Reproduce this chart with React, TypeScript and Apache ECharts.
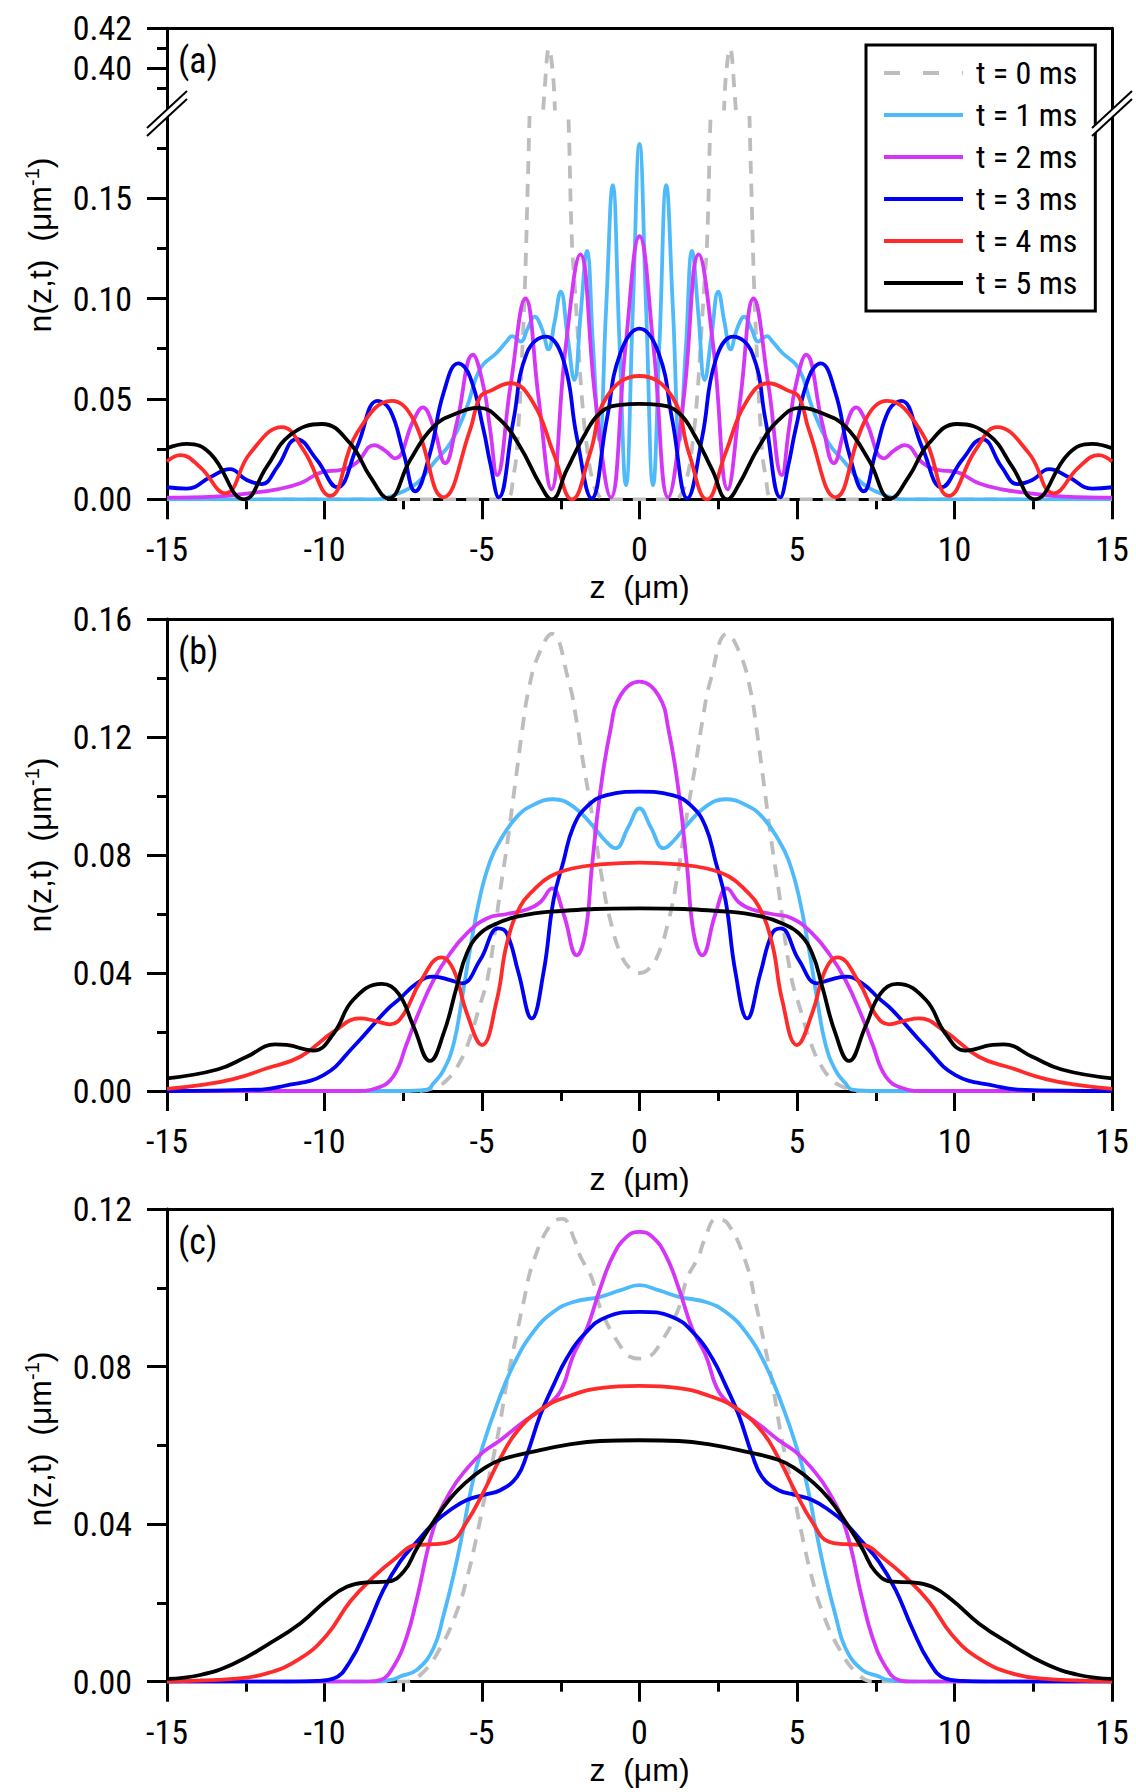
import React, { useEffect, useRef } from 'react';
import * as echarts from 'echarts';

const NARROW = "'Liberation Sans Narrow', 'Arial Narrow', 'Roboto Condensed', 'Liberation Sans', Arial, sans-serif";
const REGULAR = "'Liberation Sans', Arial, sans-serif";

const SERIES_NAMES = ['t = 0 ms', 't = 1 ms', 't = 2 ms', 't = 3 ms', 't = 4 ms', 't = 5 ms'];
const SERIES_COLORS = ['#bdbdbd', '#4fbafa', '#d535f7', '#0000f5', '#ff2a2a', '#000000'];
const PANEL_LABELS = ['(a)', '(b)', '(c)'];
const X_TITLE = 'z  (μm)';
const Y_TITLE_RICH = '{t|n(z,t)  (μm}{s|-1}{t|)}';

const Z_MIN = -15;
const Z_MAX = 15;
const Z_STEP = 5;

const A_UPPER_MIN = 0.38;
const A_UPPER_MAX = 0.42;
const A_UPPER_STEP = 0.02;
const A_UPPER_LABELS = [0.4, 0.42];
const A_LOWER_MIN = 0;
const A_LOWER_MAX = 0.19;
const A_LOWER_STEP = 0.05;
const A_LOWER_LABELS = [0, 0.05, 0.1, 0.15];
const A_LOWER_MINOR = [0.025, 0.075, 0.125, 0.175];
const B_MAX = 0.16;
const C_MAX = 0.12;
const BC_STEP = 0.04;

// half profiles (z from -15 to 0); the profiles are symmetric in z
const A_T0 = [[-15,0],[-4.3,0],[-4.0,0.012],[-3.85,0.035],[-3.74,0.068],[-3.63,0.11],[-3.56,0.15],[-3.5,0.185],[-3.4,0.25],[-3.2,0.34],[-3.0,0.392],[-2.87,0.41],[-2.78,0.402],[-2.7,0.385],[-2.55,0.32],[-2.4,0.25],[-2.25,0.188],[-2.15,0.13],[-2.05,0.105],[-1.95,0.08],[-1.85,0.055],[-1.7,0.03],[-1.5,0.01],[-1.3,0.002],[-1.1,0],[0,0]];
const A_T1 = [[-15,0],[-8.3,0],[-7.8,0.002],[-7.07,0.008],[-6.54,0.018],[-6.0,0.028],[-5.5,0.045],[-5.06,0.065],[-4.53,0.073],[-4.2,0.079],[-4.05,0.0813],[-3.9,0.08],[-3.77,0.0785],[-3.55,0.085],[-3.33,0.091],[-3.1,0.085],[-2.89,0.0747],[-2.7,0.088],[-2.5,0.1034],[-2.29,0.082],[-2.07,0.0594],[-1.87,0.092],[-1.67,0.1237],[-1.47,0.075],[-1.27,0.0295],[-1.06,0.095],[-0.85,0.1565],[-0.64,0.08],[-0.43,0.007],[-0.21,0.095],[0,0.177]];
const A_T2 = [[-15,0.0008],[-13.5,0.0013],[-12.4,0.003],[-11.5,0.005],[-10.77,0.008],[-10.03,0.0138],[-9.5,0.0146],[-9.0,0.018],[-8.42,0.027],[-8.1,0.0245],[-7.76,0.0204],[-7.17,0.0395],[-6.88,0.0458],[-6.54,0.036],[-6.17,0.018],[-5.8,0.038],[-5.29,0.072],[-4.95,0.056],[-4.74,0.0345],[-4.52,0.012],[-4.1,0.056],[-3.62,0.1],[-3.2,0.05],[-2.8,0.005],[-2.35,0.075],[-1.88,0.122],[-1.4,0.05],[-0.91,0.001],[-0.45,0.075],[0,0.131]];
const A_T3 = [[-15,0.006],[-14.37,0.0053],[-13.63,0.011],[-13.0,0.015],[-12.47,0.0096],[-12.0,0.0076],[-11.5,0.016],[-10.88,0.03],[-10.24,0.0196],[-9.6,0.006],[-8.97,0.026],[-8.31,0.049],[-7.92,0.0445],[-7.49,0.023],[-7.12,0.004],[-6.65,0.023],[-6.22,0.053],[-5.75,0.0677],[-5.38,0.061],[-4.95,0.0345],[-4.74,0.018],[-4.47,0.001],[-4.0,0.0395],[-3.58,0.0727],[-2.97,0.081],[-2.41,0.069],[-1.99,0.031],[-1.52,0.0005],[-1.04,0.0395],[-0.61,0.0727],[0,0.085]];
const A_T4 = [[-15,0.0188],[-14.58,0.022],[-13.95,0.016],[-13.15,0.003],[-12.36,0.023],[-11.35,0.0359],[-10.67,0.0246],[-9.82,0.0017],[-8.97,0.033],[-7.86,0.049],[-7.17,0.0395],[-6.22,0.001],[-5.38,0.0345],[-5.06,0.051],[-4.74,0.054],[-4.09,0.0578],[-3.37,0.048],[-2.73,0.023],[-2.14,0],[-1.57,0.023],[-1.04,0.051],[0,0.0614]];
const A_T5 = [[-15,0.0254],[-14.37,0.0276],[-13.63,0.0229],[-12.54,0],[-11.83,0.0163],[-11.09,0.032],[-10.08,0.0375],[-9.19,0.0279],[-8.55,0.0113],[-7.97,0.0005],[-7.28,0.0196],[-6.54,0.0362],[-5.8,0.0428],[-5.1,0.0455],[-4.42,0.0395],[-3.79,0.0262],[-3.16,0.0075],[-2.79,0],[-2.31,0.0146],[-1.78,0.031],[-1.25,0.043],[-0.61,0.047],[0,0.0475]];

const B_T0 = [[-15,0],[-7,0],[-6.43,0.0015],[-6.12,0.0037],[-5.8,0.008],[-5.48,0.015],[-5.11,0.0275],[-4.79,0.04],[-4.42,0.068],[-4.21,0.083],[-3.9,0.108],[-3.74,0.121],[-3.52,0.136],[-3.2,0.148],[-2.78,0.155],[-2.25,0.139],[-1.99,0.125],[-1.8,0.112],[-1.51,0.094],[-1.2,0.0727],[-0.93,0.058],[-0.56,0.0455],[-0.25,0.041],[0,0.04]];
const B_T1 = [[-15,0],[-7.6,0],[-6.75,0.0005],[-6.54,0.0026],[-6.22,0.0071],[-5.9,0.016],[-5.64,0.031],[-5.38,0.048],[-5.06,0.066],[-4.74,0.078],[-4.42,0.085],[-3.89,0.093],[-3.37,0.097],[-2.73,0.0989],[-2.1,0.0964],[-1.46,0.0896],[-1.1,0.085],[-0.77,0.0823],[-0.35,0.0896],[0,0.0958]];
const B_T2 = [[-15,0],[-9,0],[-8.34,0.001],[-7.81,0.005],[-7.39,0.016],[-7.07,0.025],[-6.54,0.0376],[-6.01,0.0467],[-5.48,0.0534],[-4.85,0.0585],[-4.21,0.06],[-3.58,0.0615],[-3.15,0.064],[-2.78,0.0687],[-2.41,0.06],[-1.99,0.046],[-1.72,0.0535],[-1.51,0.076],[-1.25,0.101],[-0.93,0.122],[-0.61,0.134],[0,0.1388]];
const B_T3 = [[-15,0],[-12,0.0005],[-11.3,0.0017],[-10.03,0.0054],[-9.08,0.015],[-8.02,0.0275],[-7.6,0.0314],[-7.07,0.0365],[-6.54,0.0388],[-6.01,0.0376],[-5.64,0.0365],[-5.06,0.0444],[-4.48,0.0551],[-4.21,0.0534],[-3.84,0.04],[-3.42,0.0246],[-3.05,0.04],[-2.73,0.0647],[-2.41,0.078],[-2.1,0.0896],[-1.67,0.0964],[-1.04,0.1003],[0,0.1015]];
const B_T4 = [[-15,0.0007],[-13.95,0.002],[-12.9,0.004],[-11.83,0.0077],[-10.77,0.0116],[-9.71,0.0201],[-8.87,0.0246],[-8.4,0.0238],[-7.92,0.0226],[-7.49,0.026],[-6.96,0.037],[-6.28,0.0453],[-5.9,0.041],[-5.48,0.0263],[-5.0,0.0156],[-4.53,0.0308],[-4.21,0.05],[-3.79,0.0625],[-3.37,0.068],[-2.84,0.0727],[-2.1,0.0755],[-1.25,0.0768],[0,0.0774]];
const B_T5 = [[-15,0.0043],[-13.4,0.0073],[-12.47,0.0116],[-11.57,0.0158],[-11.2,0.0156],[-10.35,0.0137],[-9.71,0.0195],[-9.08,0.031],[-8.18,0.0363],[-7.65,0.033],[-7.17,0.0218],[-6.65,0.0102],[-6.22,0.0195],[-5.8,0.0354],[-5.48,0.0467],[-5.06,0.0534],[-4.53,0.0568],[-3.89,0.0591],[-2.84,0.0608],[0,0.0619]];

const C_T0 = [[-15,0],[-7.5,0],[-6.96,0.0017],[-6.33,0.0085],[-5.8,0.0178],[-5.48,0.0262],[-5.16,0.0372],[-4.9,0.0474],[-4.58,0.0592],[-4.42,0.066],[-4.21,0.0761],[-3.95,0.0863],[-3.68,0.0964],[-3.37,0.1066],[-2.8,0.1163],[-2.45,0.1175],[-2.04,0.1117],[-1.88,0.108],[-1.51,0.1024],[-1.2,0.0939],[-0.56,0.0846],[-0.3,0.0825],[0,0.082]];
const C_T1 = [[-15,0],[-8.5,0],[-7.81,0.0006],[-7.6,0.0013],[-7.07,0.003],[-6.54,0.0085],[-6.22,0.0169],[-5.9,0.0271],[-5.59,0.0389],[-5.32,0.0499],[-5.0,0.0592],[-4.53,0.0702],[-4.0,0.0804],[-3.37,0.0888],[-2.73,0.0939],[-2.1,0.0964],[-1.25,0.0977],[-0.6,0.0994],[0,0.1007]];
const C_T2 = [[-15,0],[-8.6,0],[-8.23,0.0004],[-7.81,0.0038],[-7.39,0.0114],[-7.07,0.021],[-6.54,0.0389],[-6.01,0.0482],[-5.48,0.0541],[-4.95,0.0584],[-4.42,0.0613],[-3.68,0.066],[-3.05,0.0694],[-2.52,0.0736],[-2.1,0.0829],[-1.67,0.0897],[-1.25,0.0998],[-0.83,0.1083],[-0.4,0.113],[0,0.1142]];
const C_T3 = [[-15,0],[-11,0],[-10.24,0.0002],[-9.71,0.0008],[-9.19,0.0051],[-8.66,0.0135],[-8.13,0.0233],[-7.6,0.0305],[-7.07,0.0355],[-6.54,0.0402],[-6.01,0.0436],[-5.48,0.0461],[-4.95,0.0474],[-4.42,0.0486],[-3.89,0.052],[-3.58,0.0575],[-3.15,0.0677],[-2.73,0.0753],[-2.31,0.0821],[-1.78,0.088],[-1.04,0.0926],[0,0.0939]];
const C_T4 = [[-15,0],[-13.95,0.0003],[-12.9,0.0007],[-11.83,0.0021],[-10.77,0.0059],[-9.93,0.0118],[-9.19,0.0203],[-8.44,0.0266],[-7.81,0.0309],[-7.07,0.0347],[-6.54,0.0349],[-6.01,0.0355],[-5.48,0.0406],[-4.95,0.0482],[-4.42,0.0567],[-3.89,0.0635],[-3.15,0.069],[-2.31,0.0723],[-1.25,0.0745],[0,0.0751]];
const C_T5 = [[-15,0.0007],[-13.95,0.0017],[-12.9,0.0045],[-11.83,0.0093],[-10.77,0.0148],[-9.93,0.0207],[-9.29,0.0241],[-8.66,0.0252],[-8.02,0.0254],[-7.49,0.0279],[-7.07,0.0338],[-6.54,0.0406],[-6.01,0.0465],[-5.48,0.0508],[-4.95,0.0541],[-4.42,0.0563],[-3.37,0.0584],[-2.31,0.0601],[-1.25,0.0611],[0,0.0613]];

const PANEL_A = [A_T0, A_T1, A_T2, A_T3, A_T4, A_T5];
const PANEL_B = [B_T0, B_T1, B_T2, B_T3, B_T4, B_T5];
const PANEL_C = [C_T0, C_T1, C_T2, C_T3, C_T4, C_T5];

function mirror(half: number[][]): number[][] {
  const right = half.slice(0, -1).reverse().map(([z, n]) => [-z, n]);
  return [...half, ...right];
}

const BLACK = '#000';
const LINE_W = 3;

function makeSeries(i: number, data: number[][], xi: number, yi: number) {
  return {
    type: 'line',
    name: SERIES_NAMES[i],
    xAxisIndex: xi,
    yAxisIndex: yi,
    data: mirror(data),
    symbol: 'none',
    showSymbol: false,
    smooth: 0.45,
    clip: true,
    lineStyle: {
      color: SERIES_COLORS[i],
      width: 3.8,
      type: i === 0 ? [13, 10] : 'solid',
    },
    itemStyle: { color: SERIES_COLORS[i] },
    z: 2 + i,
  };
}

const axisLine = { show: true, onZero: false, lineStyle: { color: BLACK, width: LINE_W } };
const tickStyle = { color: BLACK, width: LINE_W };
const fmt2 = (v: number) => v.toFixed(2);

function xBottom(gridIndex: number) {
  return {
    type: 'value', gridIndex, position: 'bottom', min: Z_MIN, max: Z_MAX, interval: Z_STEP,
    axisLine,
    axisTick: { show: true, inside: false, length: 20, lineStyle: tickStyle },
    minorTick: { show: true, splitNumber: 2, length: 10, lineStyle: tickStyle },
    axisLabel: { show: true, margin: 33, fontSize: 34, fontFamily: NARROW, color: BLACK, formatter: (v: number) => String(v) },
    splitLine: { show: false }, minorSplitLine: { show: false },
    name: X_TITLE, nameLocation: 'middle', nameGap: 72,
    nameTextStyle: { fontSize: 32, fontFamily: REGULAR, color: BLACK },
  };
}
function xTop(gridIndex: number) {
  return {
    type: 'value', gridIndex, position: 'top', min: Z_MIN, max: Z_MAX,
    axisLine, axisTick: { show: false }, axisLabel: { show: false },
    splitLine: { show: false },
  };
}
function yRight(gridIndex: number, min: number, max: number) {
  return {
    type: 'value', gridIndex, position: 'right', min, max,
    axisLine, axisTick: { show: false }, axisLabel: { show: false },
    splitLine: { show: false },
  };
}
function yLeft(gridIndex: number, min: number, max: number, interval: number) {
  return {
    type: 'value', gridIndex, position: 'left', min, max, interval,
    axisLine,
    axisTick: { show: true, inside: false, length: 20, lineStyle: tickStyle },
    minorTick: { show: true, splitNumber: 2, length: 10, lineStyle: tickStyle },
    axisLabel: { show: true, margin: 35, fontSize: 34, fontFamily: NARROW, color: BLACK, formatter: fmt2 },
    splitLine: { show: false }, minorSplitLine: { show: false },
  };
}

function breakMark(dx: number) {
  const p = [[147 + dx, 128], [187 + dx, 91], [187 + dx, 99], [147 + dx, 136]];
  return [
    { type: 'polygon', z: 100, shape: { points: p }, style: { fill: '#fff', stroke: null } },
    { type: 'line', z: 101, shape: { x1: p[0][0], y1: p[0][1], x2: p[1][0], y2: p[1][1] }, style: { stroke: BLACK, lineWidth: 2 } },
    { type: 'line', z: 101, shape: { x1: p[3][0], y1: p[3][1], x2: p[2][0], y2: p[2][1] }, style: { stroke: BLACK, lineWidth: 2 } },
  ];
}

function buildOption() {
  const LEFT = 167;
  const WIDTH = 945;
  const grids = [
    { left: LEFT, width: WIDTH, top: 28.3, height: 80.3 },
    { left: LEFT, width: WIDTH, top: 117.8, height: 381.5 },
    { left: LEFT, width: WIDTH, top: 619, height: 472 },
    { left: LEFT, width: WIDTH, top: 1209, height: 472.7 },
  ];
  const xAxis = [xTop(0), xBottom(1), xBottom(2), xTop(2), xBottom(3), xTop(3)];
  const yAxis: any[] = [
    {
      ...yLeft(0, A_UPPER_MIN, A_UPPER_MAX, A_UPPER_STEP),
      axisTick: { show: true, inside: false, length: 20, lineStyle: tickStyle, customValues: A_UPPER_LABELS },
      axisLabel: { show: true, margin: 35, fontSize: 34, fontFamily: NARROW, color: BLACK, formatter: fmt2, customValues: A_UPPER_LABELS },
    },
    yRight(0, A_UPPER_MIN, A_UPPER_MAX),
    {
      ...yLeft(1, A_LOWER_MIN, A_LOWER_MAX, A_LOWER_STEP),
      minorTick: { show: false },
      axisTick: { show: true, inside: false, length: 20, lineStyle: tickStyle, customValues: A_LOWER_LABELS },
      axisLabel: { show: true, margin: 35, fontSize: 34, fontFamily: NARROW, color: BLACK, formatter: fmt2, customValues: A_LOWER_LABELS },
    },
    {
      type: 'value', gridIndex: 1, position: 'left', min: A_LOWER_MIN, max: A_LOWER_MAX,
      axisLine: { show: false, onZero: false },
      axisTick: { show: true, inside: false, length: 10, lineStyle: tickStyle, customValues: A_LOWER_MINOR },
      axisLabel: { show: false }, splitLine: { show: false },
    },
    yRight(1, A_LOWER_MIN, A_LOWER_MAX),
    yLeft(2, 0, B_MAX, BC_STEP),
    yRight(2, 0, B_MAX),
    yLeft(3, 0, C_MAX, BC_STEP),
    yRight(3, 0, C_MAX),
  ];

  const series: any[] = [];
  PANEL_A.forEach((d, i) => series.push(makeSeries(i, d, 1, 2)));
  series.push(makeSeries(0, A_T0, 0, 0));
  PANEL_B.forEach((d, i) => series.push(makeSeries(i, d, 2, 5)));
  PANEL_C.forEach((d, i) => series.push(makeSeries(i, d, 4, 7)));

  const titleCenters = [245, 845, 1439];
  const labelTops = [43, 634, 1224];
  const graphics: any[] = [
    ...breakMark(0),
    ...breakMark(945),
    ...titleCenters.map((cy) => ({
      type: 'text', x: 40, y: cy, rotation: Math.PI / 2, z: 50,
      style: {
        text: Y_TITLE_RICH, align: 'center', verticalAlign: 'middle',
        rich: {
          t: { fontSize: 32, fontFamily: REGULAR, fill: BLACK, lineHeight: 36 },
          s: { fontSize: 20, fontFamily: REGULAR, fill: BLACK, verticalAlign: 'top', lineHeight: 36 },
        },
      },
    })),
    ...labelTops.map((ty, i) => ({
      type: 'text', x: 178, y: ty, z: 50,
      style: { text: PANEL_LABELS[i], fontSize: 36, fontFamily: NARROW, fill: BLACK, align: 'left', verticalAlign: 'top' },
    })),
  ];

  return {
    animation: false,
    backgroundColor: '#fff',
    grid: grids,
    xAxis,
    yAxis,
    series,
    legend: {
      show: true,
      orient: 'vertical',
      left: 866,
      top: 45,
      itemWidth: 79,
      itemHeight: 20,
      itemGap: 10,
      padding: [12, 18, 12, 16],
      borderColor: BLACK,
      borderWidth: 3,
      backgroundColor: '#fff',
      selectedMode: false,
      z: 20,
      textStyle: { fontSize: 32, fontFamily: NARROW, color: BLACK, padding: [0, 0, 0, 8] },
      data: SERIES_NAMES.map((name, i) => ({
        name,
        itemStyle: { color: 'rgba(0,0,0,0)', borderWidth: 0, opacity: 0 },
        lineStyle: { width: 4, color: SERIES_COLORS[i], type: i === 0 ? [16, 23] : 'solid', opacity: 1 },
      })),
    },
    graphic: { elements: graphics },
  };
}

export default function App() {
  const ref = useRef<HTMLDivElement>(null);
  useEffect(() => {
    if (!ref.current) return;
    const chart = echarts.init(ref.current, undefined, { renderer: 'svg' });
    chart.setOption(buildOption() as any);
    return () => chart.dispose();
  }, []);
  return (
    <div
      ref={ref}
      style={{ position: 'absolute', left: 0, top: 0, width: 1136, height: 1792, background: '#fff' }}
    />
  );
}
